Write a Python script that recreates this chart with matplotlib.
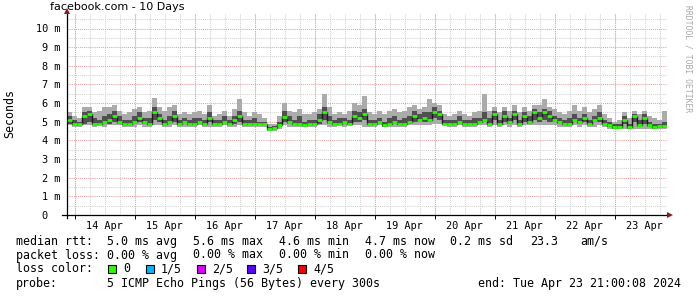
import numpy as np
import matplotlib
matplotlib.use("Agg")
import matplotlib.pyplot as plt
from matplotlib.patches import Rectangle

# 2-hour slots starting Tue Apr 13 21:00 (values in ms)
median = [
    5.1, 4.9, 4.9, 5.3, 5.4, 4.9, 4.9, 5.0, 5.1, 5.3, 5.0, 4.9,
    4.9, 5.0, 5.2, 5.0, 4.9, 5.5, 5.2, 4.9, 5.0, 5.3, 4.9, 5.0,
    4.9, 4.9, 5.0, 4.9, 5.2, 4.9, 4.9, 5.0, 4.9, 5.1, 5.3, 4.9,
    4.9, 4.9, 4.9, 4.9, 4.6, 4.65, 4.8, 5.25, 5.0, 4.9, 4.9, 4.85,
    4.9, 4.9, 5.1, 5.5, 5.0, 4.9, 4.9, 5.0, 4.9, 5.3, 5.2, 5.4,
    4.9, 4.9, 5.0, 4.8, 4.9, 5.0, 4.9, 4.9, 5.0, 5.3, 5.1, 5.2,
    5.1, 5.5, 5.4, 4.9, 4.9, 4.9, 5.0, 4.9, 4.9, 4.9, 5.0, 5.1,
    4.9, 5.4, 4.9, 5.3, 5.0, 5.4, 4.9, 5.3, 5.0, 5.5, 5.2, 5.5,
    5.3, 5.1, 5.0, 4.9, 4.9, 5.1, 5.0, 5.2, 4.9, 5.1, 5.2, 4.9,
    4.8, 4.7, 4.7, 5.1, 4.7, 5.3, 4.8, 5.2, 4.8, 4.7, 4.75, 4.75,
]
rtt_max = [
    5.5, 5.3, 5.2, 5.8, 5.8, 5.5, 5.6, 5.8, 5.8, 5.9, 5.6, 5.4,
    5.5, 5.7, 5.8, 5.5, 5.6, 6.3, 5.8, 5.6, 5.8, 5.9, 5.4, 5.5,
    5.4, 5.5, 5.6, 5.4, 5.9, 5.3, 5.4, 5.6, 5.3, 5.7, 6.2, 5.5,
    5.3, 5.5, 5.4, 5.2, 4.9, 4.9, 5.3, 6.0, 5.6, 5.5, 5.7, 5.4,
    5.4, 5.5, 5.7, 6.5, 5.8, 5.4, 5.5, 5.4, 5.6, 6.0, 5.9, 6.4,
    5.5, 5.4, 5.6, 5.4, 5.6, 5.7, 5.5, 5.6, 5.8, 5.9, 5.7, 5.8,
    6.2, 6.0, 5.9, 5.4, 5.3, 5.4, 5.6, 5.4, 5.3, 5.5, 5.6, 6.5,
    5.6, 5.8, 5.5, 5.8, 5.6, 5.9, 5.5, 5.8, 5.6, 5.9, 5.9, 6.2,
    5.8, 5.7, 5.5, 5.4, 5.6, 5.9, 5.6, 5.8, 5.5, 5.7, 5.9, 5.4,
    5.2, 5.0, 5.1, 5.5, 5.2, 5.6, 5.4, 5.6, 5.3, 5.2, 5.1, 5.6,
]
rtt_min = [
    4.8, 4.7, 4.7, 4.8, 4.8, 4.7, 4.8, 4.7, 4.8, 4.8, 4.8, 4.7,
    4.7, 4.7, 4.8, 4.7, 4.7, 4.8, 4.8, 4.7, 4.7, 4.8, 4.7, 4.7,
    4.7, 4.7, 4.8, 4.7, 4.7, 4.7, 4.7, 4.8, 4.7, 4.7, 4.8, 4.7,
    4.7, 4.7, 4.7, 4.7, 4.5, 4.5, 4.6, 4.8, 4.7, 4.7, 4.7, 4.7,
    4.7, 4.7, 4.8, 4.8, 4.7, 4.7, 4.8, 4.7, 4.8, 4.8, 4.8, 4.7,
    4.7, 4.7, 4.8, 4.7, 4.7, 4.7, 4.7, 4.7, 4.8, 4.8, 4.8, 4.8,
    4.8, 4.9, 4.9, 4.8, 4.7, 4.7, 4.8, 4.7, 4.7, 4.7, 4.8, 4.8,
    4.7, 4.8, 4.7, 4.8, 4.7, 4.8, 4.7, 4.8, 4.8, 4.8, 4.8, 4.8,
    4.8, 4.8, 4.7, 4.7, 4.7, 4.8, 4.7, 4.8, 4.7, 4.7, 4.8, 4.7,
    4.6, 4.6, 4.6, 4.6, 4.6, 4.6, 4.6, 4.6, 4.6, 4.6, 4.6, 4.6,
]
rtt_q4 = [
    5.3, 5.1, 5.0, 5.5, 5.6, 5.2, 5.1, 5.3, 5.4, 5.6, 5.3, 5.1,
    5.1, 5.3, 5.5, 5.2, 5.2, 5.8, 5.4, 5.1, 5.3, 5.6, 5.1, 5.2,
    5.1, 5.2, 5.2, 5.1, 5.5, 5.1, 5.1, 5.3, 5.1, 5.3, 5.6, 5.1,
    5.1, 5.2, 5.0, 5.0, 4.7, 4.75, 5.0, 5.6, 5.3, 5.1, 5.3, 5.0,
    5.1, 5.1, 5.4, 5.8, 5.3, 5.1, 5.2, 5.2, 5.1, 5.6, 5.5, 5.7,
    5.1, 5.1, 5.2, 5.0, 5.2, 5.3, 5.1, 5.2, 5.3, 5.6, 5.4, 5.5,
    5.5, 5.8, 5.6, 5.1, 5.1, 5.1, 5.3, 5.1, 5.1, 5.2, 5.2, 5.5,
    5.2, 5.6, 5.1, 5.6, 5.2, 5.6, 5.1, 5.5, 5.3, 5.7, 5.5, 5.7,
    5.6, 5.3, 5.2, 5.1, 5.2, 5.4, 5.2, 5.4, 5.1, 5.3, 5.5, 5.1,
    5.0, 4.9, 4.9, 5.3, 4.9, 5.4, 5.1, 5.4, 5.0, 4.9, 4.9, 5.0,
]
rtt_q2 = [
    4.9, 4.8, 4.8, 4.9, 5.0, 4.8, 4.8, 4.9, 4.9, 5.0, 4.9, 4.8,
    4.8, 4.9, 5.0, 4.9, 4.8, 5.1, 5.0, 4.8, 4.9, 5.0, 4.8, 4.9,
    4.8, 4.8, 4.9, 4.8, 5.0, 4.8, 4.8, 4.9, 4.8, 4.9, 5.0, 4.8,
    4.8, 4.8, 4.8, 4.8, 4.55, 4.6, 4.7, 5.0, 4.9, 4.8, 4.8, 4.8,
    4.8, 4.8, 4.9, 5.1, 4.9, 4.8, 4.8, 4.9, 4.8, 5.0, 5.0, 5.1,
    4.8, 4.8, 4.9, 4.7, 4.8, 4.9, 4.8, 4.8, 4.9, 5.0, 5.0, 5.0,
    5.0, 5.2, 5.1, 4.8, 4.8, 4.8, 4.9, 4.8, 4.8, 4.8, 4.9, 5.0,
    4.8, 5.1, 4.8, 5.0, 4.9, 5.1, 4.8, 5.0, 4.9, 5.1, 5.0, 5.1,
    5.0, 5.0, 4.9, 4.8, 4.8, 5.0, 4.9, 5.0, 4.8, 5.0, 5.0, 4.8,
    4.7, 4.6, 4.6, 4.9, 4.6, 5.0, 4.7, 4.9, 4.7, 4.6, 4.65, 4.65,
]

day_labels = ["14 Apr", "15 Apr", "16 Apr", "17 Apr", "18 Apr",
              "19 Apr", "20 Apr", "21 Apr", "22 Apr", "23 Apr"]
ytick_labels = ["0  ", "1 m", "2 m", "3 m", "4 m", "5 m",
                "6 m", "7 m", "8 m", "9 m", "10 m"]

rtt_stats = ["5.0 ms avg", "5.6 ms max", "4.6 ms min", "4.7 ms now",
             "0.2 ms sd", "23.3", "am/s"]
loss_stats = ["0.00 % avg", "0.00 % max", "0.00 % min", "0.00 % now"]
loss_labels = ["0", "1/5", "2/5", "3/5", "4/5"]
loss_colors = ["#26ff00", "#00b8ff", "#dd00ff", "#5e00ff", "#ff0000"]
probe_text = "5 ICMP Echo Pings (56 Bytes) every 300s"
end_text = "end: Tue Apr 23 21:00:08 2024"

W, H = 697, 297
MONO = "DejaVu Sans Mono"


def fx(x):
    return x / W


def fy(y):
    return 1 - y / H


fig = plt.figure(figsize=(W / 100, H / 100), dpi=100)
ax = fig.add_axes([fx(67), fy(215), 600 / W, 201 / H])
ax.set_xlim(0, 240)
ax.set_ylim(0, 201 / 18.65)

# grid: minor gray, major red
for h in range(3, 240, 6):
    ax.axvline(h, color="#d2d2d2", lw=0.75, ls=(0, (1, 1)), zorder=0)
for y in np.arange(0.5, 10.8, 1.0):
    ax.axhline(y, color="#d2d2d2", lw=0.75, ls=(0, (1, 1)), zorder=0)
for h in range(3, 240, 24):
    ax.axvline(h, color="#eaa0a0", lw=0.75, ls=(0, (1, 1)), zorder=0.5)
for y in range(1, 11):
    ax.axhline(y, color="#eaa0a0", lw=0.75, ls=(0, (1, 1)), zorder=0.5)

# smoke + median
hours = np.arange(len(median) + 1) * 2
ax.stairs(rtt_max, hours, baseline=rtt_min, fill=True, color="#ababab", lw=0, zorder=2)
ax.stairs(rtt_q4, hours, baseline=rtt_q2, fill=True, color="#505050", lw=0, zorder=3)
ax.stairs(median, hours, baseline=None, color="#1a1a1a", lw=1.0, zorder=4)
ax.hlines(median, hours[:-1], hours[1:], color=loss_colors[0], lw=2.0, zorder=5)

# ticks
ax.set_xticks(range(15, 240, 24))
ax.set_xticklabels(day_labels, family=MONO, fontsize=7.4)
ax.set_xticks(range(3, 240, 24), minor=True)
ax.set_yticks(range(0, 11))
ax.set_yticklabels(ytick_labels, family=MONO, fontsize=7.4)
ax.tick_params(axis="x", which="major", length=0, pad=4)
ax.tick_params(axis="x", which="minor", length=3, width=0.7, color="#000000")
ax.tick_params(axis="y", length=0, pad=5)
for s in ax.spines.values():
    s.set_visible(False)

# axes with arrows
ax.plot([-5 / 600, 602 / 600], [0, 0], color="#000000", lw=0.9,
        transform=ax.transAxes, clip_on=False, zorder=6)
ax.plot([0, 0], [-3 / 201, 203 / 201], color="#000000", lw=0.9,
        transform=ax.transAxes, clip_on=False, zorder=6)
ax.plot([603 / 600], [0], marker=">", ms=4.5, color="#8b1a1a", mew=0,
        transform=ax.transAxes, clip_on=False, zorder=7)
ax.plot([0], [204 / 201], marker="^", ms=4.5, color="#8b1a1a", mew=0,
        transform=ax.transAxes, clip_on=False, zorder=7)

# titles
fig.text(fx(50), fy(7), "facebook.com - 10 Days", ha="left", va="center",
         fontsize=8, family="DejaVu Sans")
fig.text(fx(10), fy(114), "Seconds", rotation=90, ha="center", va="center",
         family=MONO, fontsize=8.4)
fig.text(fx(688), fy(5), "RRDTOOL / TOBI OETIKER", rotation=270,
         ha="center", va="top", family=MONO, fontsize=5.8, color="#a8a8a8")

# legend
cols = [107, 193, 279, 365, 450, 530, 580]
rows = [241.5, 255, 269, 283]
kw = dict(family=MONO, fontsize=8.4, va="center", ha="left")
fig.text(fx(16), fy(rows[0]), "median rtt:", **kw)
for x, s in zip(cols, rtt_stats):
    fig.text(fx(x), fy(rows[0]), s, **kw)
fig.text(fx(16), fy(rows[1]), "packet loss:", **kw)
for x, s in zip(cols, loss_stats):
    fig.text(fx(x), fy(rows[1]), s, **kw)
fig.text(fx(16), fy(rows[2]), "loss color:", **kw)
box_x = [108, 146, 197, 247, 298]
for x, lab, c in zip(box_x, loss_labels, loss_colors):
    fig.patches.append(Rectangle((fx(x), fy(273)), 8 / W, 8 / H,
                                 facecolor=c, edgecolor="#000000", lw=0.8,
                                 transform=fig.transFigure, figure=fig))
    fig.text(fx(x + 15), fy(rows[2]), lab, **kw)
fig.text(fx(16), fy(rows[3]), "probe:", **kw)
fig.text(fx(107), fy(rows[3]), probe_text, **kw)
fig.text(fx(478), fy(rows[3]), end_text, **kw)

fig.savefig("out.png", dpi=100, facecolor="white")
